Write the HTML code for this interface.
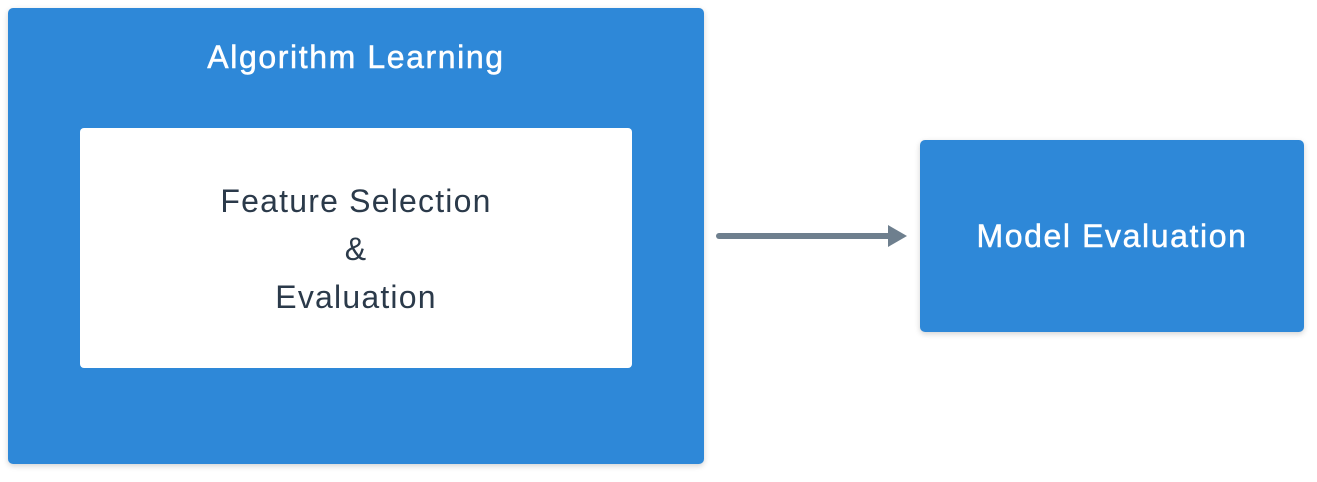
<!DOCTYPE html>
<html><head><style>
body{margin:0;width:1317px;height:482px;background:#fff;position:relative;font-family:"Liberation Sans",sans-serif;overflow:hidden}
.b{position:absolute;background:#2E88D8;border-radius:5px;box-shadow:0 2px 6px rgba(0,0,0,0.18)}
.t{position:absolute;text-align:center;font-size:32px;letter-spacing:1.2px}
.w{color:#fff;letter-spacing:1.6px;-webkit-text-stroke:0.5px #fff}
</style></head><body>
<div class="b" style="left:8px;top:8px;width:696px;height:456px"></div>
<div class="t w" style="left:8px;width:696px;top:39px">Algorithm Learning</div>
<div style="position:absolute;left:80px;top:128px;width:552px;height:240px;background:#fff;border-radius:4px"></div>
<div class="t" style="left:80px;width:552px;top:177px;color:#2B3A4A;line-height:48px">Feature Selection<br>&amp;<br>Evaluation</div>
<div class="b" style="left:920px;top:140px;width:384px;height:192px"></div>
<div class="t w" style="left:920px;width:384px;top:218px">Model Evaluation</div>
<svg style="position:absolute;left:0;top:0" width="1317" height="482">
<line x1="719" y1="236" x2="892" y2="236" stroke="#6E7F8E" stroke-width="6" stroke-linecap="round"/>
<polygon points="888,225 907,236 888,247" fill="#6E7F8E"/>
</svg>
</body></html>
